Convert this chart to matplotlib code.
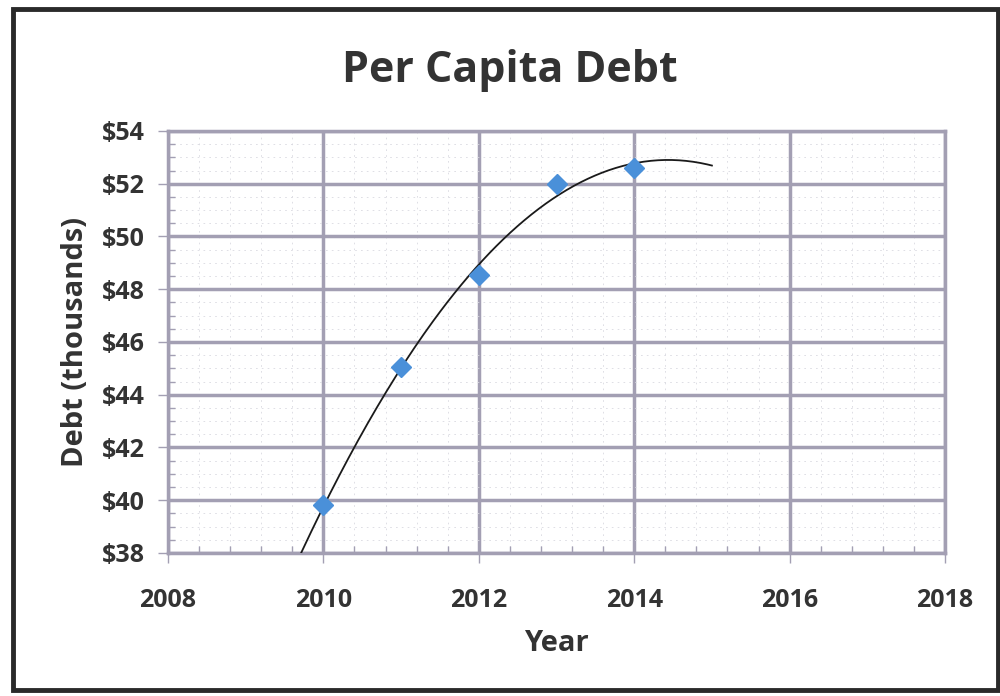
import numpy as np
import matplotlib
matplotlib.use("Agg")
from matplotlib import pyplot as plt
from matplotlib.patches import Rectangle
from matplotlib.ticker import MultipleLocator, FuncFormatter

years = [2010, 2011, 2012, 2013, 2014]
debt = [39.8, 45.05, 48.55, 52.0, 52.6]
x_ticks = [2008, 2010, 2012, 2014, 2016, 2018]
y_ticks = [38, 40, 42, 44, 46, 48, 50, 52, 54]

plt.rcParams['font.family'] = ['Open Sans', 'DejaVu Sans']
text_col = '#333333'
grid_col = '#a39fb3'

fig = plt.figure(figsize=(10, 6.96), dpi=100)
ax = fig.add_axes([0.168, 0.2055, 0.777, 0.6063])

# polynomial (order 2) trendline, forecast one year forward and back
coef = np.polyfit(years, debt, 2)
xs = np.linspace(years[0] - 1, years[-1] + 1, 200)
ax.plot(xs, np.polyval(coef, xs), color='#1a1a1a', lw=1.3, zorder=3)
ax.plot(years, debt, 'D', color='#4a90d9', markersize=10, zorder=4, clip_on=False)

ax.set_xlim(2008, 2018)
ax.set_ylim(38, 54)
ax.set_xticks(x_ticks)
ax.set_yticks(y_ticks)
ax.xaxis.set_minor_locator(MultipleLocator(0.4))
ax.yaxis.set_minor_locator(MultipleLocator(0.5))
ax.yaxis.set_major_formatter(FuncFormatter(lambda v, p: '$%d' % v))

ax.grid(which='major', color=grid_col, lw=2.5)
ax.grid(which='minor', color='#d9d9e0', lw=0.6, ls=(0, (2, 5)))
ax.set_axisbelow(True)
for s in ax.spines.values():
    s.set_color(grid_col)
    s.set_linewidth(2.5)

ax.tick_params(which='major', direction='out', length=7, width=1, color=grid_col,
               labelsize=18, labelcolor=text_col)
ax.tick_params(axis='x', which='major', pad=18)
ax.tick_params(axis='y', which='major', pad=10)
ax.tick_params(which='minor', direction='in', length=5, width=1, color=grid_col)
for lab in ax.get_xticklabels() + ax.get_yticklabels():
    lab.set_fontweight('bold')

ax.set_xlabel('Year', fontsize=21, fontweight='bold', color=text_col, labelpad=12)
ax.set_ylabel('Debt (thousands)', fontsize=21, fontweight='bold', color=text_col, labelpad=8)
fig.text(0.51, 0.898, 'Per Capita Debt', ha='center', va='center', fontsize=31,
         fontweight='bold', color=text_col)

fig.patches.append(Rectangle((0.013, 0.008), 0.985, 0.979, transform=fig.transFigure,
                             fill=False, edgecolor='#2a2a2a', lw=3.5))

fig.savefig('out.png', dpi=100)
